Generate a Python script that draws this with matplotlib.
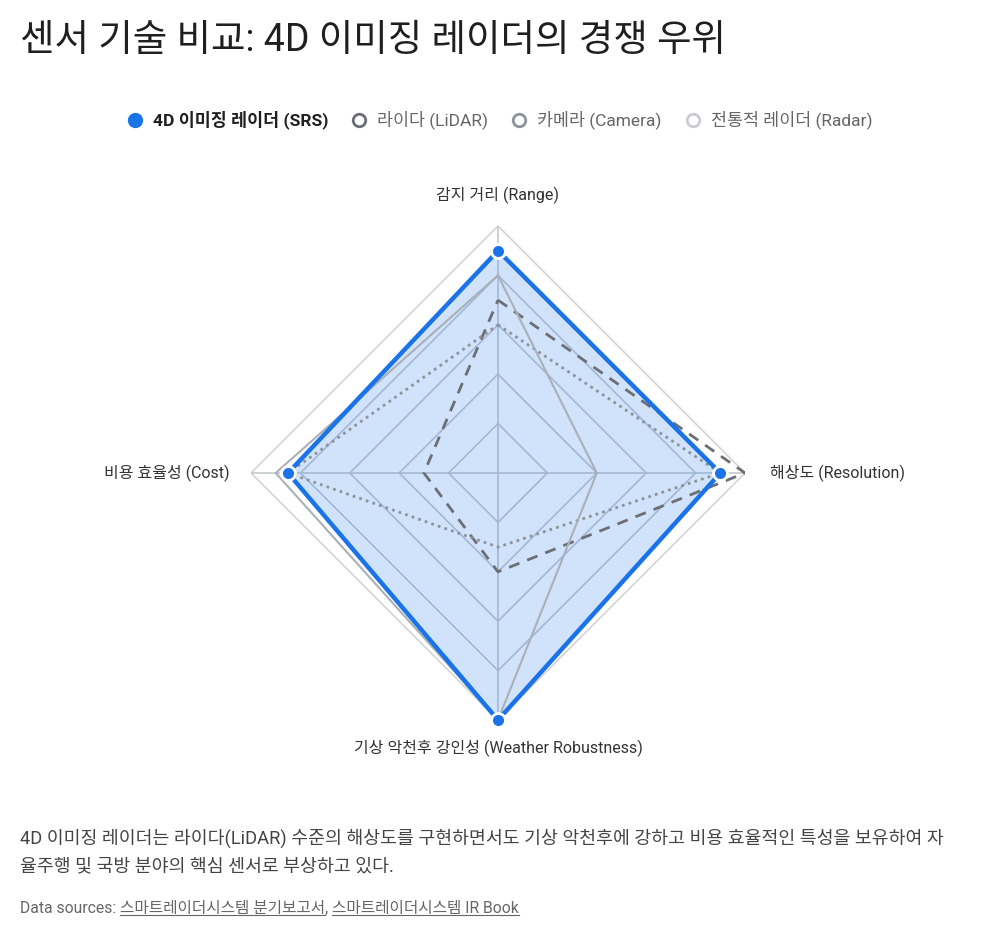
import numpy as np
import matplotlib
matplotlib.use('Agg')
import matplotlib.pyplot as plt
from matplotlib.lines import Line2D

plt.rcParams['font.family'] = ['Roboto', 'Noto Sans CJK KR', 'DejaVu Sans']

# data
axes_labels = ['감지 거리 (Range)', '해상도 (Resolution)',
               '기상 악천후 강인성 (Weather Robustness)', '비용 효율성 (Cost)']
series_names = ['4D 이미징 레이더 (SRS)', '라이다 (LiDAR)', '카메라 (Camera)', '전통적 레이더 (Radar)']
srs = [90, 90, 100, 85]
lidar = [70, 100, 40, 30]
camera = [60, 90, 30, 85]
radar = [80, 40, 100, 90]
rmax = 100
levels = [20, 40, 60, 80, 100]

title = '센서 기술 비교: 4D 이미징 레이더의 경쟁 우위'
note_lines = ['4D 이미징 레이더는 라이다(LiDAR) 수준의 해상도를 구현하면서도 기상 악천후에 강하고 비용 효율적인 특성을 보유하여 자',
              '율주행 및 국방 분야의 핵심 센서로 부상하고 있다.']
sources = ['스마트레이더시스템 분기보고서', '스마트레이더시스템 IR Book']

W, H = 1000, 938
fig = plt.figure(figsize=(W / 100, H / 100), dpi=100)

cx, cy, R = 498, 473, 247
ax = fig.add_axes([(cx - R) / W, (H - cy - R) / H, 2 * R / W, 2 * R / H], projection='polar')
ax.set_theta_offset(np.pi / 2)
ax.set_theta_direction(-1)
ax.set_ylim(0, rmax)
ax.grid(False)
ax.set_xticks([])
ax.set_yticks([])
ax.spines['polar'].set_visible(False)
ax.patch.set_alpha(0)

n = len(axes_labels)
ang = np.linspace(0, 2 * np.pi, n, endpoint=False)
ang_c = np.append(ang, ang[0])

def closed(v):
    return np.append(v, v[0])

# grid rings and spokes
for lv in levels:
    c = '#d4d4d4' if lv == rmax else '#c4c9d0'
    ax.plot(ang_c, [lv] * (n + 1), color=c, lw=1.2, zorder=1)
for a in ang:
    ax.plot([a, a], [0, rmax], color='#c4c9d0', lw=1.2, zorder=1)

blue = '#1a73e8'
ax.fill(ang_c, closed(srs), color=blue, alpha=0.2, lw=0, zorder=2)

ax.plot(ang_c, closed(lidar), color='#6b6f75', lw=2, ls=(0, (4, 3)), zorder=3)
ax.plot(ang_c, closed(camera), color='#8e9399', lw=2, ls=(0, (1, 1.5)), zorder=3)
ax.plot(ang_c, closed(radar), color='#aab0b8', lw=1.5, zorder=3)
ax.plot(ang_c, closed(srs), color=blue, lw=3.2, zorder=4, clip_on=False)
ax.plot(ang, srs, 'o', color=blue, ms=10, mec='white', mew=2, zorder=5, clip_on=False)

# axis labels
lab_pos = [(cx, 195, 'center'), (770, cy, 'left'), (cx, 748, 'center'), (230, cy, 'right')]
for (x, y, ha), lab in zip(lab_pos, axes_labels):
    fig.text(x / W, 1 - y / H, lab, ha=ha, va='center', fontsize=11.5, color='#333333')

# title
fig.text(20 / W, 1 - 41 / H, title, ha='left', va='center', fontsize=27, color='#1f1f1f')

# legend (centered)
fig.canvas.draw()
rend = fig.canvas.get_renderer()
leg_colors = [blue, '#6b6f75', '#8e9399', '#c9ccd0']
leg_text_colors = ['#1f1f1f', '#666666', '#666666', '#666666']
ly = 1 - 120 / H
texts = []
for i, (name, tc) in enumerate(zip(series_names, leg_text_colors)):
    t = fig.text(0, ly, name, ha='left', va='center', fontsize=12.5, color=tc,
                 fontweight='bold' if i == 0 else 'normal')
    texts.append(t)
widths = [t.get_window_extent(rend).width for t in texts]
gap = 31
total = sum(widths) + len(widths) * 18 + (len(widths) - 1) * gap + 7
x = 500 - total / 2 + 7
for i, (t, c, w) in enumerate(zip(texts, leg_colors, widths)):
    if i == 0:
        m = Line2D([x / W], [ly], marker='o', ms=10, color=c, mec=c, transform=fig.transFigure)
    else:
        m = Line2D([x / W], [ly], marker='o', ms=9, mfc='white', mec=c, mew=2, transform=fig.transFigure)
    fig.add_artist(m)
    t.set_x((x + 18) / W)
    x = x + 18 + w + gap

# note
for i, line in enumerate(note_lines):
    fig.text(20 / W, 1 - (838 + 28 * i) / H, line, ha='left', va='center', fontsize=13.2, color='#444444')

# sources with underlines
sy = 1 - 908 / H
fs = 11.3
t = fig.text(20 / W, sy, 'Data sources: ', ha='left', va='center', fontsize=fs, color='#666666')
x = t.get_window_extent(rend).x1
for i, s in enumerate(sources):
    t = fig.text(x / W, sy, s, ha='left', va='center', fontsize=fs, color='#666666')
    bb = t.get_window_extent(rend)
    fig.add_artist(Line2D([bb.x0 / W, bb.x1 / W], [(bb.y0 + 1) / H] * 2, color='#666666', lw=0.8,
                          transform=fig.transFigure))
    x = bb.x1
    if i < len(sources) - 1:
        t = fig.text(x / W, sy, ', ', ha='left', va='center', fontsize=fs, color='#666666')
        x = t.get_window_extent(rend).x1

fig.savefig('out.png', dpi=100)
